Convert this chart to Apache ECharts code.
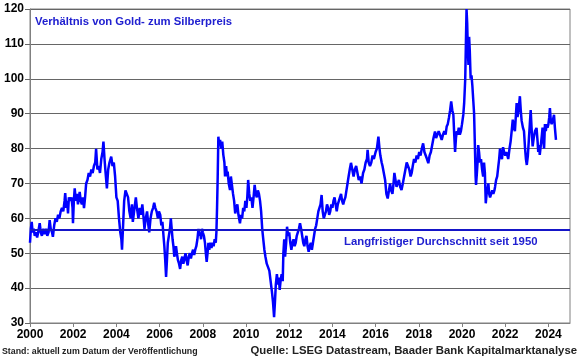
<!DOCTYPE html>
<html><head><meta charset="utf-8">
<script src="https://cdn.jsdelivr.net/npm/echarts@6/dist/echarts.min.js"></script>
<style>html,body{margin:0;padding:0;background:#fff}#c{width:580px;height:359px}</style>
</head><body><div id="c"></div>
<script>
const years = [2000.00,2000.04,2000.08,2000.12,2000.17,2000.22,2000.28,2000.33,2000.38,2000.45,2000.5,2000.55,2000.62,2000.68,2000.75,2000.8,2000.86,2000.91,2000.96,2001.02,2001.06,2001.12,2001.18,2001.24,2001.3,2001.36,2001.42,2001.48,2001.54,2001.6,2001.63,2001.68,2001.72,2001.76,2001.8,2001.86,2001.92,2001.97,2001.99,2002.03,2002.07,2002.12,2002.17,2002.22,2002.27,2002.3,2002.35,2002.4,2002.45,2002.5,2002.55,2002.6,2002.66,2002.72,2002.78,2002.84,2002.9,2002.96,2003.02,2003.06,2003.12,2003.18,2003.24,2003.3,2003.36,2003.4,2003.45,2003.5,2003.56,2003.62,2003.68,2003.76,2003.82,2003.88,2003.94,2004.0,2004.06,2004.12,2004.18,2004.23,2004.26,2004.31,2004.36,2004.42,2004.48,2004.54,2004.6,2004.66,2004.72,2004.76,2004.82,2004.9,2004.95,2005.02,2005.08,2005.14,2005.2,2005.26,2005.3,2005.36,2005.42,2005.48,2005.52,2005.58,2005.64,2005.7,2005.75,2005.8,2005.86,2005.92,2005.97,2006.03,2006.08,2006.13,2006.18,2006.22,2006.26,2006.3,2006.34,2006.38,2006.43,2006.48,2006.52,2006.56,2006.6,2006.64,2006.68,2006.72,2006.76,2006.8,2006.85,2006.9,2006.95,2007.0,2007.05,2007.1,2007.15,2007.2,2007.25,2007.3,2007.35,2007.4,2007.45,2007.5,2007.55,2007.6,2007.65,2007.7,2007.75,2007.8,2007.84,2007.88,2007.92,2007.96,2008.0,2008.05,2008.1,2008.14,2008.18,2008.22,2008.26,2008.3,2008.35,2008.4,2008.45,2008.5,2008.55,2008.6,2008.63,2008.66,2008.69,2008.72,2008.76,2008.8,2008.85,2008.9,2008.95,2009.0,2009.03,2009.08,2009.12,2009.15,2009.2,2009.26,2009.3,2009.34,2009.4,2009.45,2009.5,2009.55,2009.6,2009.65,2009.72,2009.77,2009.82,2009.87,2009.92,2009.97,2010.02,2010.06,2010.1,2010.15,2010.2,2010.25,2010.3,2010.35,2010.4,2010.45,2010.5,2010.55,2010.6,2010.65,2010.7,2010.75,2010.8,2010.85,2010.9,2010.96,2011.02,2011.08,2011.14,2011.2,2011.25,2011.3,2011.34,2011.38,2011.43,2011.48,2011.52,2011.56,2011.6,2011.65,2011.7,2011.73,2011.77,2011.81,2011.86,2011.9,2011.95,2012.0,2012.05,2012.1,2012.15,2012.2,2012.25,2012.3,2012.35,2012.4,2012.45,2012.5,2012.55,2012.6,2012.65,2012.7,2012.75,2012.8,2012.85,2012.9,2012.95,2013.0,2013.05,2013.1,2013.15,2013.2,2013.25,2013.3,2013.35,2013.4,2013.45,2013.5,2013.55,2013.6,2013.65,2013.7,2013.75,2013.8,2013.85,2013.9,2013.95,2014.0,2014.05,2014.1,2014.15,2014.2,2014.25,2014.3,2014.35,2014.4,2014.45,2014.5,2014.55,2014.6,2014.65,2014.7,2014.75,2014.8,2014.86,2014.92,2014.98,2015.04,2015.1,2015.16,2015.22,2015.28,2015.35,2015.42,2015.48,2015.54,2015.6,2015.63,2015.68,2015.74,2015.8,2015.86,2015.92,2016.0,2016.06,2016.13,2016.18,2016.22,2016.28,2016.32,2016.38,2016.44,2016.5,2016.56,2016.62,2016.67,2016.72,2016.78,2016.83,2016.87,2016.92,2016.97,2017.02,2017.08,2017.14,2017.2,2017.26,2017.32,2017.38,2017.44,2017.5,2017.56,2017.62,2017.67,2017.72,2017.78,2017.84,2017.9,2017.96,2018.02,2018.08,2018.14,2018.2,2018.26,2018.32,2018.38,2018.44,2018.5,2018.56,2018.62,2018.68,2018.75,2018.8,2018.86,2018.92,2018.98,2019.06,2019.12,2019.18,2019.24,2019.29,2019.34,2019.4,2019.45,2019.5,2019.55,2019.6,2019.64,2019.68,2019.72,2019.76,2019.8,2019.85,2019.9,2019.95,2020.0,2020.06,2020.1,2020.15,2020.18,2020.21,2020.24,2020.27,2020.3,2020.33,2020.36,2020.4,2020.44,2020.48,2020.52,2020.56,2020.6,2020.63,2020.65,2020.69,2020.72,2020.75,2020.79,2020.83,2020.88,2020.93,2020.98,2021.02,2021.06,2021.1,2021.14,2021.18,2021.22,2021.26,2021.3,2021.35,2021.4,2021.45,2021.5,2021.53,2021.58,2021.63,2021.68,2021.72,2021.76,2021.8,2021.85,2021.9,2021.95,2022.0,2022.05,2022.1,2022.14,2022.2,2022.25,2022.3,2022.35,2022.4,2022.45,2022.5,2022.53,2022.57,2022.62,2022.68,2022.72,2022.76,2022.82,2022.87,2022.92,2022.96,2023.0,2023.05,2023.1,2023.14,2023.18,2023.22,2023.27,2023.32,2023.38,2023.45,2023.5,2023.53,2023.57,2023.6,2023.65,2023.7,2023.73,2023.77,2023.8,2023.84,2023.88,2023.92,2023.96,2024.0,2024.04,2024.07,2024.11,2024.15,2024.2,2024.26,2024.3,2024.35];
const ratio = [53,57,59,56,57,55,56,54.5,56,58.6,56,55,57,55.5,57,55,56,59.5,57,56,54.7,58,60,59,61,60,62,63,62,65,67.2,63,65,61.4,66,65,66,63,58.6,65,68.6,65,67,64,66,67.6,65,64,66,62.9,66,70,71,73,72,74,73,75,76,79.9,74,75,73,77,79,82,77,73,68.6,74,76,77.7,75,76,72,66,65,60,56,54,51,58,65,68,67,66,62,60,64,59,62,66,63,60,63,61,64,60,57,60,62,58,56,60,62,63,64.5,63,62,60,62,61,58,59,55,52,48,43.2,48,53,55,57,60,57,54,52,49,50,52,50,48,47,45.5,48,49,47,48.5,50,48,46.5,49,50,48.5,50,51,49.5,51,52,54,57,55,56,54,57,56,55,53,50,47.5,50,53,51,53,51.5,53,52,54,53,56,63,72,83.4,81,82.5,80,82,78.2,76,72,75,72,73.4,70,68.1,72,70,67,65,61.4,63,64,61,58.6,61,60,63,62,65,63,66,71,67,65,66,63,66,69.6,67,66,68,67,65,62,57,54,51,49,47,46,45,42,39,36,31.7,36,41,44,41,43,39.5,42,44,42,50,54,49,53,57.6,55,56,53,51,53,54,52,53,55,56,57,58.6,57,55,53,52,54,55,52,50.4,52,53,51,53,55,57,58,60,62,63,64,66.7,62,60,61,62,64,63,61,62,64,63,65,66,64,62,64,65,66,67,65,64,65.2,66,68,70,72,73.9,75.9,74,72,74,75,73,71,72,70,73,74,76,77,79.6,76,75,76,78,77,79,80,83.4,80,78,76,75,73,71,67,65.7,68,70,68,67,70,73,71,69,70,71,69,68.1,70,72,74,76,75,74,72,73,75,77,76,78,77,79,78,80,81.5,79,78,77,75.8,78,79,81,83,84.9,83,84,85,84,82.5,84,85,84,86.3,87,89,91,93.5,91,89.7,84,79,83,85,84,86,84,85,87,89.7,93,100,110,120,116,108,104,112,108,100,101,98,94,90,80,72,69.6,73,76,81,79,76,77,74,72,76,73,64.3,67,68,70,67,66,67,68,67,68,69,71,72,74.8,77,80,78,77,80.4,79,78,79,78,77,80,82,85,88.3,86,85,90,93,89,91,95,91,88,86,85,80,77,75.3,78,83,87,91,86,80.6,83,85,85.9,82,79,81,78.2,81,84,86,82,80,87,85,87,86,87,89,91.6,88,87,88,89.7,86,82.5];
const yearTicks = [2000,2002,2004,2006,2008,2010,2012,2014,2016,2018,2020,2022,2024];
const longTermAverage = 56.8;
const titleText = 'Verhältnis von Gold- zum Silberpreis';
const avgText = 'Langfristiger Durchschnitt seit 1950';
const footLeft = 'Stand: aktuell zum Datum der Veröffentlichung';
const footRight = 'Quelle: LSEG Datastream, Baader Bank Kapitalmarktanalyse';

const chart = echarts.init(document.getElementById('c'), null, {renderer: 'canvas'});
const FONT = '"Liberation Sans", Arial, sans-serif';
chart.setOption({
  animation: false,
  backgroundColor: '#fff',
  grid: {left: 30, right: 10, top: 9, bottom: 36, show: true, borderColor: '#808080', borderWidth: 1, backgroundColor: 'transparent'},
  xAxis: {
    type: 'value', min: 2000, max: 2025,
    axisLine: {show: true, lineStyle: {color: '#808080', width: 1}},
    axisTick: {show: true, length: 4, lineStyle: {color: '#808080'}, customValues: yearTicks},
    axisLabel: {customValues: yearTicks, color: '#000', fontFamily: FONT, fontWeight: 'bold', fontSize: 12, margin: 6, formatter: v => String(v)},
    splitLine: {show: false}
  },
  yAxis: {
    type: 'value', min: 30, max: 120, interval: 10,
    axisLine: {show: true, lineStyle: {color: '#808080', width: 1}},
    axisTick: {show: true, length: 5, lineStyle: {color: '#666'}},
    axisLabel: {color: '#000', fontFamily: FONT, fontWeight: 'bold', fontSize: 12, margin: 6},
    splitLine: {show: true, lineStyle: {color: '#666', width: 1}}
  },
  series: [{
    type: 'line',
    data: years.map((y, i) => [y, ratio[i]]),
    showSymbol: false,
    lineStyle: {color: '#0000ff', width: 2.5},
    clip: true,
    markLine: {
      silent: true, symbol: 'none', label: {show: false},
      lineStyle: {color: '#1515c8', width: 2, type: 'solid'},
      data: [{yAxis: longTermAverage}]
    }
  }],
  graphic: [
    {type: 'text', left: 35, top: 16, style: {text: titleText, fill: '#2020d0', font: 'bold 11.3px ' + FONT}},
    {type: 'text', left: 344, top: 236, style: {text: avgText, fill: '#2020d0', font: 'bold 11.35px ' + FONT}},
    {type: 'text', left: 2, top: 347, style: {text: footLeft, fill: '#222', font: 'bold 8.8px ' + FONT}},
    {type: 'text', right: 3, top: 345, style: {text: footRight, fill: '#222', font: 'bold 11.35px ' + FONT}}
  ]
});
</script></body></html>
